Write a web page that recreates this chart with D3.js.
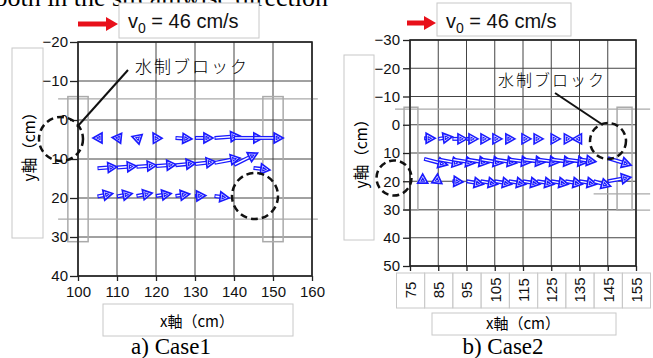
<!DOCTYPE html>
<html>
<head>
<meta charset="utf-8">
<script src="https://cdn.jsdelivr.net/npm/d3@7"></script>
<style>
  body { margin: 0; background: #fff; }
  svg { display: block; }
</style>
</head>
<body>
<svg id="chart" width="653" height="358"></svg>
<script>
// velocity vectors: [x tail (cm), y tail (cm), u (cm/s), v (cm/s)]
const case1Vectors = [
  [105, 4.6, -4.6, 0], [110, 4.6, -5, -0.5], [115, 4.6, -4.6, -1.5], [120, 4.6, -3, -5],
  [125, 4.6, 16.8, 1], [130, 4.6, 18.4, 0], [135, 4.6, 26, -2], [140, 4.6, 29.6, 0], [145, 4.6, 30.4, 0],
  [105, 12.4, 20, -1.5], [110, 12.2, 20, -1.5], [115, 12.0, 20.5, -1.5], [120, 11.8, 20.5, -1.5],
  [125, 11.6, 20.5, -2], [130, 11.3, 21, -2.5], [135, 11.0, 26, -5], [140, 11.5, 24, -12], [145, 12.3, 16.8, 2],
  [105, 19.6, 15.5, -3], [110, 19.6, 15.5, -3], [115, 19.5, 16, -3], [120, 19.5, 15.5, -2.5],
  [125, 19.5, 14.5, -2], [130, 19.5, 11, -0.5], [135, 19.5, 15, 2]
];
const case2Vectors = [
  [80, 4.8, 15.6, 0], [85, 5, 19.8, -3], [90, 5, 20.7, 0], [95, 5, 16.3, 0], [100, 5, 13.3, 0],
  [105, 5, 10.2, 0], [110, 5, 8.5, 0], [115, 5, 11.3, 0], [120, 5, 8.5, 0], [125, 5, 12.7, 0],
  [130, 5, 11.3, 0], [135, 5, -10, 0],
  [80, 12.1, 33, 8.5], [85, 12.3, 33, 6], [90, 12.3, 32, 5], [95, 12.3, 31, 5], [100, 12.3, 31, 5],
  [105, 12.3, 31, 5], [110, 12.3, 31, 4], [115, 12.3, 31, 4], [120, 12.3, 31, 4], [125, 12.3, 31, 4],
  [130, 12.3, 31, 4], [135, 12.3, 23, 3], [145, 11.8, 33, 10],
  [79.5, 20.6, 0, -12.5], [84.5, 20.6, 1, -12.5],
  [90, 20, 15, 1], [95, 20, 24, 4], [100, 20, 24, 4], [105, 20, 24, 4], [110, 20, 24, 4],
  [115, 20, 24, 4], [120, 20, 24, 4], [125, 20, 24, 4], [130, 20, 24, 4], [135, 20, 24, 4],
  [140, 20, 24, 7], [145, 20, 32.6, -5.7]
];
const vecScale = 0.25; // cm on the plot per cm/s

const case1XTicks = [100, 110, 120, 130, 140, 150, 160];
const case1YTicks = [-20, -10, 0, 10, 20, 30, 40];
const case2XTicks = [75, 85, 95, 105, 115, 125, 135, 145, 155];
const case2YTicks = [-30, -20, -10, 0, 10, 20, 30, 40, 50];

// groyne blocks [x0, x1, y0, y1] in cm, and flume side lines [y, x0, x1]
const case1Blocks = [[97.4, 102.6, -6, 31.2], [147.4, 152.6, -6, 31.2]];
const case2Blocks = [[72.9, 77.8, -6.2, 30.2], [148.3, 153.6, -6.2, 30.2]];
const case1Walls = [[-5.4, 94.9, 161.5], [25.4, 94.9, 161.5]];
const case2Walls = [[-5.5, 69.7, 160], [24.5, 140, 160], [30.2, 72.9, 160]];

const sans = '"Liberation Sans", Arial, sans-serif';
const serif = '"Liberation Serif", "Times New Roman", serif';
const jp = '"Noto Sans CJK JP", sans-serif';
const blue = '#1a1aff';
const boxGray = '#c8c8c8';

const svg = d3.select('#chart');

function box(x, y, w, h) {
  svg.append('rect').attr('x', x).attr('y', y).attr('width', w).attr('height', h)
    .attr('fill', '#fff').attr('stroke', boxGray).attr('stroke-width', 1);
}

function drawArrow(g, x0, y0, x1, y1) {
  const dx = x1 - x0, dy = y1 - y0;
  const len = Math.hypot(dx, dy) || 1;
  const ux = dx / len, uy = dy / len, px = -uy, py = ux;
  const hl = 9, hw = 5;
  const bx = x1 - ux * hl, by = y1 - uy * hl;
  if (len > hl) {
    g.append('line').attr('x1', x0).attr('y1', y0).attr('x2', bx).attr('y2', by)
      .attr('stroke', blue).attr('stroke-width', 4);
    g.append('line').attr('x1', x0 + ux).attr('y1', y0 + uy).attr('x2', bx).attr('y2', by)
      .attr('stroke', '#fff').attr('stroke-width', 1.4);
  }
  const pts = [[x1, y1], [bx + px * hw, by + py * hw], [bx - px * hw, by - py * hw]];
  g.append('polygon').attr('points', pts.map(p => p.join(',')).join(' '))
    .attr('fill', '#fff').attr('stroke', blue).attr('stroke-width', 1.7).attr('stroke-linejoin', 'miter');
  const cx = (pts[0][0] + pts[1][0] + pts[2][0]) / 3, cy = (pts[0][1] + pts[1][1] + pts[2][1]) / 3;
  const inner = pts.map(p => [cx + (p[0] - cx) * 0.35, cy + (p[1] - cy) * 0.35]);
  g.append('polygon').attr('points', inner.map(p => p.join(',')).join(' '))
    .attr('fill', 'none').attr('stroke', blue).attr('stroke-width', 1.1);
}

function drawPanel(o) {
  const x = d3.scaleLinear().domain(o.xDomain).range(o.xRange);
  const y = d3.scaleLinear().domain(o.yDomain).range(o.yRange);
  const g = svg.append('g');

  // grid
  g.append('g').selectAll('line.v').data(o.xTicks).join('line')
    .attr('x1', d => x(d)).attr('x2', d => x(d)).attr('y1', o.yRange[0]).attr('y2', o.yRange[1])
    .attr('stroke', '#444').attr('stroke-width', 1);
  g.append('g').selectAll('line.h').data(o.yTicks).join('line')
    .attr('y1', d => y(d)).attr('y2', d => y(d)).attr('x1', o.xRange[0]).attr('x2', o.xRange[1])
    .attr('stroke', '#444').attr('stroke-width', 1);

  // flume walls and groyne blocks
  g.append('g').selectAll('line').data(o.walls).join('line')
    .attr('x1', d => x(d[1])).attr('x2', d => x(d[2])).attr('y1', d => y(d[0])).attr('y2', d => y(d[0]))
    .attr('stroke', '#aaa').attr('stroke-width', 1.3);
  g.append('g').selectAll('rect').data(o.blocks).join('rect')
    .attr('x', d => x(d[0])).attr('y', d => y(d[2]))
    .attr('width', d => x(d[1]) - x(d[0])).attr('height', d => y(d[3]) - y(d[2]))
    .attr('fill', 'none').attr('stroke', '#aaa').attr('stroke-width', 1.5);

  // frame
  g.append('rect').attr('x', o.xRange[0]).attr('y', o.yRange[0])
    .attr('width', o.xRange[1] - o.xRange[0]).attr('height', o.yRange[1] - o.yRange[0])
    .attr('fill', 'none').attr('stroke', '#222').attr('stroke-width', 1.6);

  // axes
  const ya = g.append('g').attr('transform', `translate(${o.xRange[0]},0)`)
    .call(d3.axisLeft(y).tickValues(o.yTicks).tickSize(o.yTickSize).tickPadding(o.yTickPad)
      .tickFormat(d => d < 0 ? '\u2212' + Math.abs(d) : d));
  ya.select('.domain').remove();
  ya.selectAll('line').attr('stroke', '#222').attr('stroke-width', 1.3);
  ya.selectAll('text').attr('font-family', sans).attr('font-size', 15).attr('fill', '#111');

  const xa = g.append('g').attr('transform', `translate(0,${o.yRange[1]})`)
    .call(d3.axisBottom(x).tickValues(o.xTicks).tickSize(5).tickPadding(o.rotateX ? 0 : 5));
  xa.select('.domain').remove();
  xa.selectAll('line').attr('stroke', '#222').attr('stroke-width', 1.3);
  xa.selectAll('text').attr('font-family', sans).attr('font-size', 15).attr('fill', '#111');
  if (o.rotateX) {
    xa.selectAll('.tick').each(function (d) {
      d3.select(this).insert('rect', 'text')
        .attr('x', -14).attr('y', 7).attr('width', 28).attr('height', 35)
        .attr('fill', '#fff').attr('stroke', boxGray);
    });
    xa.selectAll('text').attr('transform', 'rotate(-90)').attr('x', -24).attr('y', 0)
      .attr('dy', '0.35em').attr('text-anchor', 'middle');
  }

  // vectors
  const vg = g.append('g');
  o.vectors.forEach(([vx, vy, u, v]) => {
    drawArrow(vg, x(vx), y(vy), x(vx + u * vecScale), y(vy + v * vecScale));
  });
  return { x, y };
}

// top line of body text (clipped by the page edge, as in the source)
svg.append('text').attr('x', 328).attr('y', 6).attr('text-anchor', 'end')
  .attr('font-family', serif).attr('font-size', 26).text('both in the streamwise direction');

// axis title boxes
box(12, 48, 31, 190);
box(344, 55, 30, 185);
box(103, 304, 190, 32);
box(432, 313, 184, 22);

drawPanel({
  xDomain: [100, 160], xRange: [78, 312], yDomain: [-20, 40], yRange: [42, 276],
  xTicks: case1XTicks, yTicks: case1YTicks, yTickSize: 8, yTickPad: 2,
  blocks: case1Blocks, walls: case1Walls, vectors: case1Vectors, rotateX: false
});
drawPanel({
  xDomain: [75, 155], xRange: [410, 636], yDomain: [-30, 50], yRange: [40, 266],
  xTicks: case2XTicks, yTicks: case2YTicks, yTickSize: 7, yTickPad: 3,
  blocks: case2Blocks, walls: case2Walls, vectors: case2Vectors, rotateX: true
});

// axis titles
function yTitle(cx, cy) {
  svg.append('text').attr('transform', `translate(${cx},${cy}) rotate(-90)`)
    .attr('text-anchor', 'middle').attr('dy', '0.35em')
    .attr('font-family', jp).attr('font-size', 15.5).text('y軸（cm）');
}
yTitle(30, 143);
yTitle(362, 150);
svg.append('text').attr('x', 197).attr('y', 327).attr('text-anchor', 'middle')
  .attr('font-family', jp).attr('font-size', 15).text('x軸（cm）');
svg.append('text').attr('x', 523).attr('y', 329).attr('text-anchor', 'middle')
  .attr('font-family', jp).attr('font-size', 15).text('x軸（cm）');

// v0 legend
function v0Legend(bx, by, bw, bh, ax0, ax1, ay) {
  box(bx, by, bw, bh);
  svg.append('line').attr('x1', ax0).attr('x2', ax1 - 10).attr('y1', ay).attr('y2', ay)
    .attr('stroke', '#e8101a').attr('stroke-width', 5);
  svg.append('polygon').attr('points', `${ax1},${ay} ${ax1 - 12},${ay - 7} ${ax1 - 12},${ay + 7}`)
    .attr('fill', '#e8101a');
  const t = svg.append('text').attr('x', bx + 9).attr('y', by + 25)
    .attr('font-family', sans).attr('font-size', 20).attr('fill', '#111');
  t.append('tspan').text('v');
  t.append('tspan').attr('font-size', 14).attr('dy', 5).text('0');
  t.append('tspan').attr('dy', -5).text(' = 46 cm/s');
}
v0Legend(119, 3, 140, 35, 78, 118, 24);
v0Legend(437, 3, 134, 33, 407, 436, 23);

// groyne annotations
function note(tx, ty, size, lx0, ly0, lx1, ly1) {
  svg.append('text').attr('x', tx).attr('y', ty).attr('font-family', jp).attr('font-size', size)
    .attr('letter-spacing', 2).attr('font-weight', 300).text('水制ブロック');
  svg.append('line').attr('x1', lx0).attr('y1', ly0).attr('x2', lx1).attr('y2', ly1)
    .attr('stroke', '#111').attr('stroke-width', 2);
}
note(135, 73, 17, 128, 70, 77, 127);
note(498, 86, 16, 555, 93, 603, 125);

const circles = [[61, 139, 22], [255, 196, 23], [608, 141, 18], [394, 178, 17.5]];
svg.append('g').selectAll('circle').data(circles).join('circle')
  .attr('cx', d => d[0]).attr('cy', d => d[1]).attr('r', d => d[2])
  .attr('fill', 'none').attr('stroke', '#111').attr('stroke-width', 2.5)
  .attr('stroke-dasharray', '7,4');

// captions
svg.append('text').attr('x', 171).attr('y', 354).attr('text-anchor', 'middle')
  .attr('font-family', serif).attr('font-size', 23).text('a) Case1');
svg.append('text').attr('x', 503).attr('y', 354).attr('text-anchor', 'middle')
  .attr('font-family', serif).attr('font-size', 23).text('b) Case2');
</script>
</body>
</html>
